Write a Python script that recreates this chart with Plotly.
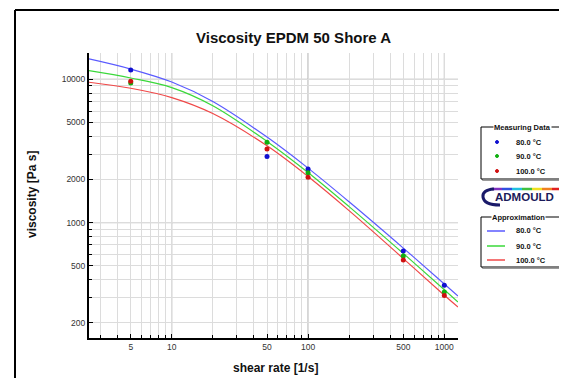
import math
import plotly.graph_objects as go

# ---------------- data ----------------
shear_rate_meas = [5, 50, 100, 500, 1000]
visc_meas_80 = [11600, 2890, 2370, 635, 366]
visc_meas_90 = [9430, 3630, 2230, 586, 328]
visc_meas_100 = [9690, 3270, 2070, 550, 311]

shear_rate_fit = [2.47, 5, 10, 20, 50, 100, 200, 500, 1000, 1260]
visc_fit_80 = [13850, 11775, 9560, 7000, 3950, 2400, 1398, 665, 374, 308]
visc_fit_90 = [11480, 10200, 8750, 6540, 3686, 2238, 1294, 610, 341, 280]
visc_fit_100 = [9530, 8650, 7450, 5766, 3432, 2098, 1213, 562, 312, 258]

temps = ["80.0 °C", "90.0 °C", "100.0 °C"]
x_ticks = [5, 10, 50, 100, 500, 1000]
y_ticks = [200, 500, 1000, 2000, 5000, 10000]

marker_colors = ["#1010d0", "#10b010", "#d01010"]
line_colors = ["#5a5aff", "#3ad83a", "#f04848"]

# ---------------- layout geometry (page pixels; body has an 8px margin) ----------------
OFF = 8
W, H = 567 - OFF, 378 - OFF
L, R, T, B = 89, 458, 53, 338  # plot area in page pixels
PW, PH = R - L, B - T


def X(px):
    return (px - L) / PW


def Y(py):
    return (B - py) / PH


fig = go.Figure()

fits = [visc_fit_80, visc_fit_90, visc_fit_100]
meas = [visc_meas_80, visc_meas_90, visc_meas_100]
for i in range(3):
    fig.add_trace(go.Scatter(x=shear_rate_fit, y=fits[i], mode="lines",
                             line=dict(color=line_colors[i], width=1.2, shape="spline", smoothing=1.0),
                             showlegend=False, hoverinfo="skip"))
for i in range(3):
    fig.add_trace(go.Scatter(x=shear_rate_meas, y=meas[i], mode="markers",
                             marker=dict(color=marker_colors[i], size=5),
                             showlegend=False))

x_minor = [3, 4, 6, 7, 8, 9, 20, 30, 40, 60, 70, 80, 90, 200, 300, 400, 600, 700, 800, 900]
y_minor = [300, 400, 600, 700, 800, 900, 3000, 4000, 6000, 7000, 8000, 9000]

tickfont = dict(family="Liberation Sans, Arial", size=8.5, color="#333333")
grid_light = "#dcdcdc"

fig.update_xaxes(type="log", range=[math.log10(2.47), math.log10(1260)],
                 tickmode="array", tickvals=x_ticks, ticktext=[str(v) for v in x_ticks],
                 ticks="inside", ticklen=4, tickwidth=1, tickcolor="black",
                 showline=True, linecolor="black", linewidth=2,
                 showgrid=True, gridcolor=grid_light, gridwidth=1, zeroline=False,
                 tickfont=tickfont,
                 minor=dict(tickvals=x_minor, ticks="inside", ticklen=3, tickcolor="black",
                            showgrid=True, gridcolor=grid_light, gridwidth=1))
fig.update_yaxes(type="log", range=[2.196, 4.183],
                 tickmode="array", tickvals=y_ticks, ticktext=[str(v) for v in y_ticks],
                 ticks="inside", ticklen=4, tickwidth=1, tickcolor="black",
                 showline=True, linecolor="black", linewidth=2,
                 showgrid=True, gridcolor=grid_light, gridwidth=1, zeroline=False,
                 tickfont=tickfont,
                 minor=dict(tickvals=y_minor, ticks="inside", ticklen=3, tickcolor="black",
                            showgrid=True, gridcolor=grid_light, gridwidth=1))

shapes = []
grid_dark = "#a8a8a8"
for xv in (10, 100, 1000):
    shapes.append(dict(type="line", xref="x", yref="paper", x0=xv, x1=xv, y0=0, y1=1,
                       line=dict(color=grid_dark, width=1), layer="below"))
for yv in (1000, 10000):
    shapes.append(dict(type="line", xref="paper", yref="y", x0=0, x1=1, y0=yv, y1=yv,
                       line=dict(color=grid_dark, width=1), layer="below"))

# outer frame (left and top edges)
shapes.append(dict(type="line", xref="paper", yref="paper", x0=X(15), x1=X(15), y0=Y(10), y1=Y(400),
                   line=dict(color="black", width=2)))
shapes.append(dict(type="line", xref="paper", yref="paper", x0=X(15), x1=X(600), y0=Y(10), y1=Y(10),
                   line=dict(color="black", width=2)))

annotations = []
annotations.append(dict(text="<b>Viscosity EPDM 50 Shore A</b>", xref="paper", yref="paper",
                        x=X(293), y=Y(37), showarrow=False, xanchor="center", yanchor="middle",
                        font=dict(family="Liberation Sans, Arial", size=15, color="#111111")))
annotations.append(dict(text="<b>shear rate [1/s]</b>", xref="paper", yref="paper",
                        x=X(275), y=Y(368), showarrow=False, xanchor="center", yanchor="middle",
                        font=dict(family="Liberation Sans, Arial", size=12, color="#111111")))
annotations.append(dict(text="<b>viscosity [Pa s]</b>", xref="paper", yref="paper",
                        x=X(32), y=Y(195), showarrow=False, xanchor="center", yanchor="middle",
                        textangle=-90,
                        font=dict(family="Liberation Sans, Arial", size=12, color="#111111")))

legfont = dict(family="Liberation Sans, Arial", size=7.5, color="#111111")
# box 1: Measuring data
bx0, bx1 = 481, 564
shapes.append(dict(type="rect", xref="paper", yref="paper", x0=X(bx0 + 1.5), x1=X(bx1 + 1.5),
                   y0=Y(180.5), y1=Y(128.5), line=dict(color="#999999", width=1)))
shapes.append(dict(type="rect", xref="paper", yref="paper", x0=X(bx0), x1=X(bx1), y0=Y(179), y1=Y(127),
                   line=dict(color="black", width=1), fillcolor="white"))
annotations.append(dict(text="<b>Measuring Data</b>", xref="paper", yref="paper", x=X(522.5), y=Y(127),
                        showarrow=False, xanchor="center", yanchor="middle", bgcolor="white",
                        borderpad=0, font=legfont))
for i, yy in enumerate((142, 156, 171)):
    shapes.append(dict(type="circle", xref="paper", yref="paper", x0=X(495.5), x1=X(498.5),
                       y0=Y(yy + 1.5), y1=Y(yy - 1.5), fillcolor=marker_colors[i],
                       line=dict(color=marker_colors[i], width=1)))
    annotations.append(dict(text="<b>" + temps[i] + "</b>", xref="paper", yref="paper", x=X(514), y=Y(yy),
                            showarrow=False, xanchor="left", yanchor="middle", font=legfont))

# logo
rainbow = ["#e02020", "#f08020", "#f0e020", "#40c040", "#20c0e0", "#3050e0", "#8030c0"]
for k, c in enumerate(rainbow[::-1]):
    xa = 492 + k * 10
    shapes.append(dict(type="line", xref="paper", yref="paper", x0=X(xa), x1=X(xa + 10),
                       y0=Y(189), y1=Y(189), line=dict(color=c, width=2.5)))
shapes.append(dict(type="path", xref="paper", yref="paper",
                   path="M %f,%f Q %f,%f %f,%f Q %f,%f %f,%f" % (
                       X(494), Y(189), X(482), Y(190), X(483), Y(197),
                       X(484), Y(205), X(500), Y(205)),
                   line=dict(color="#1a1a6a", width=3)))
annotations.append(dict(text="<b>ADMOULD</b>", xref="paper", yref="paper", x=X(524), y=Y(197),
                        showarrow=False, xanchor="center", yanchor="middle",
                        font=dict(family="Liberation Sans, Arial", size=11.5, color="#1a1a5a")))

# box 2: Approximation
shapes.append(dict(type="rect", xref="paper", yref="paper", x0=X(bx0 + 1.5), x1=X(bx1 + 1.5),
                   y0=Y(268.5), y1=Y(218.5), line=dict(color="#999999", width=1)))
shapes.append(dict(type="rect", xref="paper", yref="paper", x0=X(bx0), x1=X(bx1), y0=Y(267), y1=Y(217),
                   line=dict(color="black", width=1), fillcolor="white"))
annotations.append(dict(text="<b>Approximation</b>", xref="paper", yref="paper", x=X(519), y=Y(217),
                        showarrow=False, xanchor="center", yanchor="middle", bgcolor="white",
                        borderpad=0, font=legfont))
for i, yy in enumerate((231, 246, 260)):
    shapes.append(dict(type="line", xref="paper", yref="paper", x0=X(487), x1=X(505), y0=Y(yy), y1=Y(yy),
                       line=dict(color=line_colors[i], width=1.5)))
    annotations.append(dict(text="<b>" + temps[i] + "</b>", xref="paper", yref="paper", x=X(514), y=Y(yy),
                            showarrow=False, xanchor="left", yanchor="middle", font=legfont))

fig.update_layout(width=W, height=H,
                  margin=dict(l=L - OFF, r=W - (R - OFF), t=T - OFF, b=H - (B - OFF)),
                  paper_bgcolor="white", plot_bgcolor="white",
                  shapes=shapes, annotations=annotations, showlegend=False)

fig.write_html("out.html")
